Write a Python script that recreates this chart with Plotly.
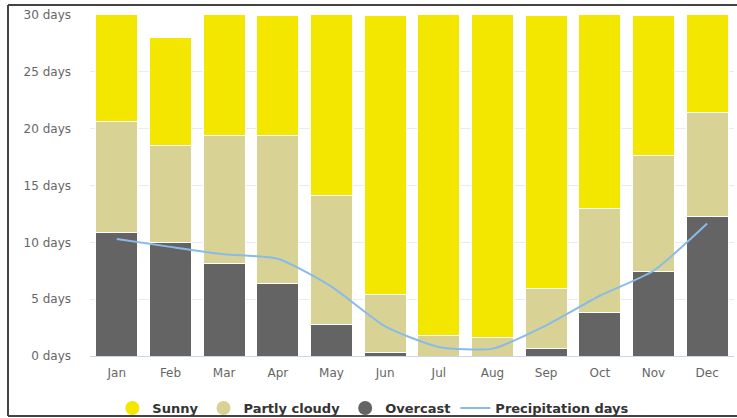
import plotly.graph_objects as go

months = ["Jan", "Feb", "Mar", "Apr", "May", "Jun", "Jul", "Aug", "Sep", "Oct", "Nov", "Dec"]
overcast = [10.9, 10.0, 8.1, 6.4, 2.8, 0.3, 0.0, 0.0, 0.7, 3.8, 7.4, 12.3]
partly_cloudy = [9.7, 8.5, 11.3, 13.0, 11.3, 5.1, 1.8, 1.6, 5.2, 9.2, 10.2, 9.1]
sunny = [10.4, 9.5, 11.6, 10.6, 16.9, 24.6, 29.2, 29.4, 24.1, 18.0, 12.4, 9.6]
precipitation = [10.3, 9.6, 8.95, 8.55, 6.1, 2.6, 0.8, 0.65, 2.7, 5.3, 7.5, 11.65]
y_ticks = [0, 5, 10, 15, 20, 25, 30]
y_tick_labels = [f"{v} days" for v in y_ticks]

C_SUNNY = "#f3e700"
C_PARTLY = "#d8d394"
C_OVER = "#646464"
C_PRECIP = "#8abbe8"

fig = go.Figure()
for name, vals, col in [("Overcast", overcast, C_OVER),
                        ("Partly cloudy", partly_cloudy, C_PARTLY),
                        ("Sunny", sunny, C_SUNNY)]:
    fig.add_trace(go.Bar(x=months, y=vals, name=name, marker_color=col,
                         marker_line_color="white", marker_line_width=1,
                         showlegend=False))

fig.add_trace(go.Scatter(x=months, y=precipitation, mode="lines", name="Precipitation days",
                         line=dict(color=C_PRECIP, width=2, shape="spline", smoothing=0.6),
                         showlegend=False))

# legend entries
for name, col in [("Sunny", C_SUNNY), ("Partly cloudy", C_PARTLY), ("Overcast", C_OVER)]:
    fig.add_trace(go.Scatter(x=[None], y=[None], mode="markers", name=name,
                             marker=dict(symbol="circle", size=14, color=col)))
fig.add_trace(go.Scatter(x=[None], y=[None], mode="lines", name="Precipitation days",
                         line=dict(color=C_PRECIP, width=2)))

W, H = 737, 418
L, R, T, B = 90, 3, 15, 62
pw, ph = W - L - R, H - T - B

def px(x):
    return (x - L) / pw

def py(y):
    return (H - B - y) / ph

frame = dict(color="#444444", width=2)
shapes = [
    dict(type="line", xref="paper", yref="paper", x0=px(8), x1=px(737), y0=py(5), y1=py(5), line=frame),
    dict(type="line", xref="paper", yref="paper", x0=px(8), x1=px(8), y0=py(5), y1=py(416), line=frame),
    dict(type="line", xref="paper", yref="paper", x0=px(8), x1=px(737), y0=py(416), y1=py(416), line=frame),
]

fig.update_layout(
    width=W, height=H,
    margin=dict(l=L, r=R, t=T, b=B, autoexpand=False),
    barmode="stack", bargap=0.22,
    plot_bgcolor="white", paper_bgcolor="white",
    font=dict(family="DejaVu Sans", size=12, color="#666666"),
    shapes=shapes,
    showlegend=True,
    legend=dict(orientation="h", x=0.44, xanchor="center", yref="container",
                y=1 - 408 / H, yanchor="middle",
                font=dict(family="DejaVu Sans", size=13, color="#333333", weight="bold"),
                itemwidth=30, traceorder="normal", bgcolor="rgba(0,0,0,0)"),
    xaxis=dict(type="category", showgrid=False, showline=True, linecolor="#ccd6eb", linewidth=1,
               ticks="", ticklen=0, tickfont=dict(size=12, color="#666666"), fixedrange=True,
               automargin=False, ticklabelstandoff=6),
    yaxis=dict(range=[0, 30], tickmode="array", tickvals=y_ticks, ticktext=y_tick_labels,
               showgrid=True, gridcolor="#ebebeb", gridwidth=1, zeroline=False, showline=False,
               tickfont=dict(size=12, color="#666666"), ticklabelstandoff=18, automargin=False,
               fixedrange=True),
)

fig.write_html("out.html", config={"displayModeBar": False},
               post_script="document.body.style.margin='0';document.body.style.overflow='hidden';")
